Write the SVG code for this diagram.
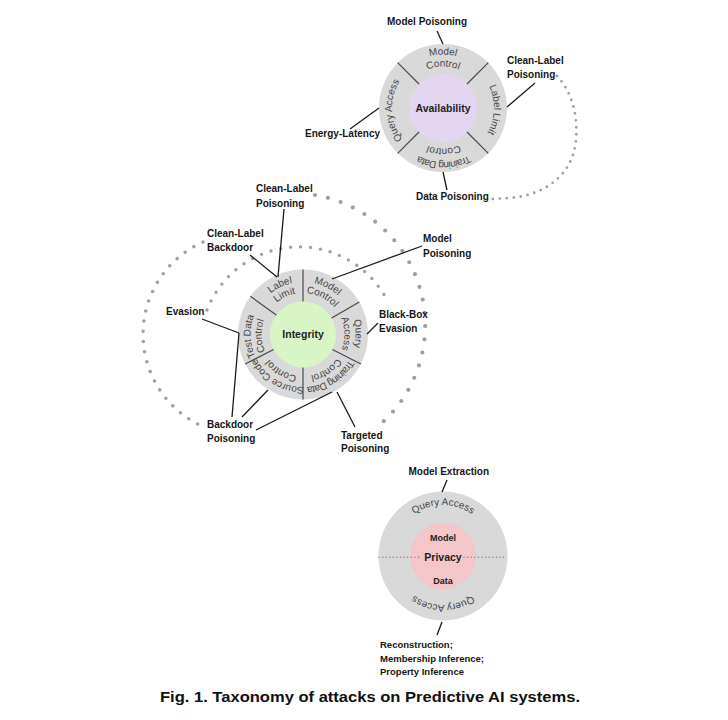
<svg xmlns="http://www.w3.org/2000/svg" width="728" height="720" viewBox="0 0 728 720">
<style>
.lbl{font-family:"Liberation Sans",Arial,sans-serif;font-weight:bold;font-size:10px;fill:#161616}
.lbs{font-family:"Liberation Sans",Arial,sans-serif;font-weight:bold;font-size:9.5px;fill:#161616}
.ring{font-family:"Liberation Sans",Arial,sans-serif;font-size:10px;fill:#454545}
.tight{letter-spacing:-0.6px}
.ctr{font-family:"Liberation Sans",Arial,sans-serif;font-weight:bold;font-size:10.5px;fill:#1e1e1e;text-anchor:middle}
.conn{stroke:#1a1a1a;stroke-width:1.3;fill:none}
.div{stroke:#4a4a4a;stroke-width:1.2}
.outer{fill:#d9d9d9}
.dots{fill:none;stroke:#a0a0a0;stroke-linecap:round}
.cap{font-family:"Liberation Sans",Arial,sans-serif;font-weight:bold;font-size:15px;fill:#111}
</style>
<defs>
<path id="a54" d="M-54,0A54,54 0 0 1 54,0"/>
<path id="a535" d="M-53.5,0A53.5,53.5 0 0 1 53.5,0"/>
<path id="a525" d="M-52.5,0A52.5,52.5 0 0 1 52.5,0"/>
<path id="a415" d="M-41.5,0A41.5,41.5 0 0 1 41.5,0"/>
<path id="a405" d="M-40.5,0A40.5,40.5 0 0 1 40.5,0"/>
<path id="a51" d="M-51,0A51,51 0 0 1 51,0"/>
<path id="a49" d="M-49,0A49,49 0 0 1 49,0"/>
</defs>
<rect width="728" height="720" fill="#fff"/>

<g id="dotted-links">
<path class="dots" stroke-width="2.8" stroke-dasharray="0 7" d="M557,76C572,92 578,115 576,140C573,175 545,195 510,198L492,199"/>
<path class="dots" stroke-width="4.2" stroke-dasharray="0 13.3" d="M315,195A132,132 0 0 1 376,428"/>
<path class="dots" stroke-width="3.4" stroke-dasharray="0 10" d="M207,310A99,99 0 0 1 387,300"/>
<path class="dots" stroke-width="3.6" stroke-dasharray="0 10.3" d="M203,242A101,101 0 0 0 204,427"/>
</g>

<g id="node-availability" transform="translate(443,108)">
<circle r="64" class="outer"/>
<circle r="34" fill="#e4d5f0"/>
<line class="div" x1="24" y1="-24" x2="45.3" y2="-45.3"/>
<line class="div" x1="24" y1="24" x2="45.3" y2="45.3"/>
<line class="div" x1="-24" y1="24" x2="-45.3" y2="45.3"/>
<line class="div" x1="-24" y1="-24" x2="-45.3" y2="-45.3"/>
<g class="ring" text-anchor="middle">
<text><textPath href="#a535" startOffset="50%">Model</textPath></text>
<text><textPath href="#a415" startOffset="50%">Control</textPath></text>
<g transform="rotate(92)"><text><textPath href="#a51" startOffset="50%">Label Limit</textPath></text></g>
<g transform="rotate(179)"><text class="tight"><textPath href="#a54" startOffset="50%">Training Data</textPath></text><text><textPath href="#a405" startOffset="50%">Control</textPath></text></g>
<g transform="rotate(267)"><text><textPath href="#a51" startOffset="50%">Query Access</textPath></text></g>
</g>
<text class="ctr" y="3.8">Availability</text>
</g>

<g id="node-integrity" transform="translate(303,334.5)">
<circle r="65" class="outer"/>
<circle r="33" fill="#d8f5c6"/>
<line class="div" x1="0" y1="-33" x2="0" y2="-65"/>
<line class="div" x1="28.6" y1="-16.5" x2="56.3" y2="-32.5"/>
<line class="div" x1="29.4" y1="15" x2="57.9" y2="29.5"/>
<line class="div" x1="0" y1="33" x2="0" y2="65"/>
<line class="div" x1="-29.4" y1="15" x2="-57.9" y2="29.5"/>
<line class="div" x1="-26.7" y1="-19.4" x2="-52.6" y2="-38.2"/>
<g class="ring" text-anchor="middle">
<g transform="rotate(-25)"><text><textPath href="#a525" startOffset="50%">Label</textPath></text><text><textPath href="#a415" startOffset="50%">Limit</textPath></text></g>
<g transform="rotate(27)"><text><textPath href="#a525" startOffset="50%">Model</textPath></text><text><textPath href="#a415" startOffset="50%">Control</textPath></text></g>
<g transform="rotate(89)"><text><textPath href="#a525" startOffset="50%">Query</textPath></text><text><textPath href="#a415" startOffset="50%">Access</textPath></text></g>
<g transform="rotate(147)"><text class="tight"><textPath href="#a525" startOffset="50%">Training Data</textPath></text><text><textPath href="#a415" startOffset="50%">Control</textPath></text></g>
<g transform="rotate(211)"><text><textPath href="#a525" startOffset="50%">Source Code</textPath></text><text><textPath href="#a415" startOffset="50%">Control</textPath></text></g>
<g transform="rotate(268)"><text><textPath href="#a525" startOffset="50%">Test Data</textPath></text><text><textPath href="#a415" startOffset="50%">Control</textPath></text></g>
</g>
<text class="ctr" y="3.8">Integrity</text>
</g>

<g id="node-privacy" transform="translate(443,556)">
<circle r="64.5" class="outer"/>
<circle r="33" fill="#f4c5c9"/>
<path d="M-64,1.3H-22M21,1.3H64" stroke="#8a8a8a" stroke-width="1.6" stroke-linecap="round" stroke-dasharray="0 3.6" fill="none"/>
<g class="ring" text-anchor="middle">
<text><textPath href="#a51" startOffset="50%">Query Access</textPath></text>
<g transform="rotate(180)"><text><textPath href="#a49" startOffset="50%">Query Access</textPath></text></g>
</g>
<text class="ctr" y="-15.5" style="font-size:9px">Model</text>
<text class="ctr" y="5">Privacy</text>
<text class="ctr" y="28" style="font-size:9px">Data</text>
</g>

<g id="connectors" class="conn">
<line x1="437" y1="31" x2="443" y2="44"/>
<line x1="535" y1="83" x2="507" y2="107"/>
<line x1="350" y1="129" x2="379" y2="108"/>
<line x1="447" y1="190" x2="443" y2="172"/>
<line x1="284" y1="209" x2="278" y2="277"/>
<line x1="250" y1="255" x2="277" y2="277"/>
<line x1="422" y1="246" x2="332" y2="279"/>
<line x1="202" y1="319" x2="239" y2="333"/>
<line x1="378" y1="323" x2="367" y2="334"/>
<line x1="232" y1="417" x2="239" y2="333"/>
<line x1="242" y1="417" x2="268" y2="390"/>
<line x1="256" y1="430" x2="332" y2="392"/>
<line x1="355" y1="427" x2="337" y2="392"/>
<line x1="447" y1="480" x2="442" y2="492"/>
<line x1="442" y1="622" x2="437" y2="635"/>
</g>

<g id="lbl-a-model-poisoning"><text class="lbl" x="387" y="24.5">Model Poisoning</text></g>
<g id="lbl-a-clean-label-poisoning"><text class="lbl" x="507" y="63.5">Clean-Label</text><text class="lbl" x="507" y="77.5">Poisoning</text></g>
<g id="lbl-a-energy-latency"><text class="lbl" x="305" y="137">Energy-Latency</text></g>
<g id="lbl-a-data-poisoning"><text class="lbl" x="416" y="199.5">Data Poisoning</text></g>

<g id="lbl-i-clean-label-poisoning"><text class="lbl" x="256" y="192">Clean-Label</text><text class="lbl" x="256" y="207">Poisoning</text></g>
<g id="lbl-i-clean-label-backdoor"><text class="lbl" x="207" y="237">Clean-Label</text><text class="lbl" x="207" y="251">Backdoor</text></g>
<g id="lbl-i-model-poisoning"><text class="lbl" x="423" y="242">Model</text><text class="lbl" x="423" y="257">Poisoning</text></g>
<g id="lbl-i-evasion"><text class="lbl" x="166" y="315">Evasion</text></g>
<g id="lbl-i-black-box-evasion"><text class="lbl" x="379" y="318">Black-Box</text><text class="lbl" x="379" y="332">Evasion</text></g>
<g id="lbl-i-backdoor-poisoning"><text class="lbl" x="207" y="428">Backdoor</text><text class="lbl" x="207" y="442">Poisoning</text></g>
<g id="lbl-i-targeted-poisoning"><text class="lbl" x="341" y="439">Targeted</text><text class="lbl" x="341" y="452">Poisoning</text></g>

<g id="lbl-p-model-extraction"><text class="lbl" x="408.5" y="474.5">Model Extraction</text></g>
<g id="lbl-p-reconstruction"><text class="lbs" x="380" y="648">Reconstruction;</text><text class="lbs" x="380" y="661.5">Membership Inference;</text><text class="lbs" x="380" y="675">Property Inference</text></g>

<g id="caption"><text class="cap" x="160" y="702" textLength="420" lengthAdjust="spacingAndGlyphs">Fig. 1. Taxonomy of attacks on Predictive AI systems.</text></g>
</svg>
